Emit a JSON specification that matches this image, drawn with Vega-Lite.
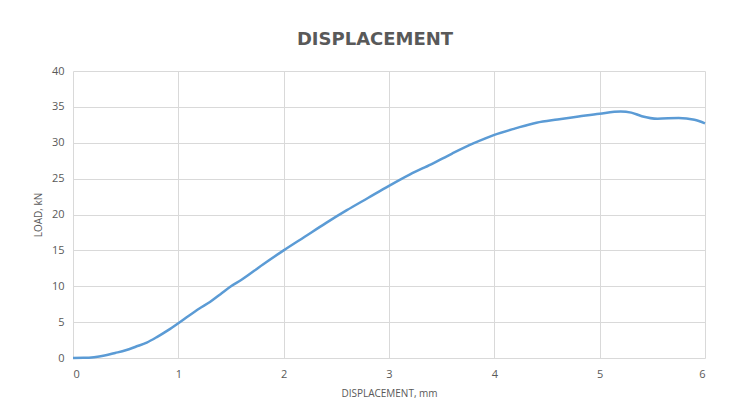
{
  "$schema": "https://vega.github.io/schema/vega-lite/v6.json",
  "width": 632,
  "height": 287,
  "autosize": {"type": "none"},
  "padding": {"left": 73, "top": 71, "right": 24, "bottom": 58},
  "background": "white",
  "title": {
    "text": "DISPLACEMENT",
    "font": "DejaVu Sans",
    "fontSize": 18,
    "fontWeight": "bold",
    "color": "#595959",
    "anchor": "middle",
    "dx": -14,
    "offset": 16
  },
  "config": {
    "view": {"stroke": null},
    "axis": {
      "labelFont": "Open Sans",
      "labelFontSize": 11,
      "labelColor": "#595959",
      "titleFont": "Open Sans",
      "titleFontSize": 10,
      "titleFontWeight": "normal",
      "titleColor": "#595959",
      "gridColor": "#d9d9d9",
      "gridWidth": 1,
      "domain": false,
      "ticks": false
    }
  },
  "data": {
    "values": [
      {"disp": 0.0, "load": 0.0},
      {"disp": 0.1, "load": 0.02},
      {"disp": 0.2, "load": 0.12},
      {"disp": 0.3, "load": 0.35},
      {"disp": 0.4, "load": 0.7},
      {"disp": 0.5, "load": 1.08},
      {"disp": 0.6, "load": 1.6},
      {"disp": 0.7, "load": 2.15},
      {"disp": 0.8, "load": 2.95},
      {"disp": 0.9, "load": 3.85},
      {"disp": 1.0, "load": 4.85},
      {"disp": 1.1, "load": 5.9},
      {"disp": 1.2, "load": 6.9},
      {"disp": 1.3, "load": 7.8},
      {"disp": 1.4, "load": 8.9},
      {"disp": 1.5, "load": 10.0},
      {"disp": 1.6, "load": 10.9},
      {"disp": 1.8, "load": 13.0},
      {"disp": 2.0, "load": 15.0},
      {"disp": 2.2, "load": 16.9},
      {"disp": 2.4, "load": 18.8},
      {"disp": 2.6, "load": 20.6},
      {"disp": 2.8, "load": 22.3},
      {"disp": 3.0, "load": 24.0},
      {"disp": 3.2, "load": 25.6},
      {"disp": 3.4, "load": 27.0},
      {"disp": 3.6, "load": 28.5},
      {"disp": 3.8, "load": 29.9},
      {"disp": 4.0, "load": 31.1},
      {"disp": 4.2, "load": 32.0},
      {"disp": 4.4, "load": 32.8},
      {"disp": 4.6, "load": 33.25},
      {"disp": 4.8, "load": 33.65},
      {"disp": 5.0, "load": 34.05},
      {"disp": 5.2, "load": 34.35},
      {"disp": 5.3, "load": 34.2},
      {"disp": 5.4, "load": 33.7},
      {"disp": 5.55, "load": 33.35},
      {"disp": 5.75, "load": 33.45},
      {"disp": 5.9, "load": 33.2},
      {"disp": 6.0, "load": 32.7}
    ]
  },
  "mark": {
    "type": "line",
    "color": "#5b9bd5",
    "strokeWidth": 2.5,
    "interpolate": "monotone"
  },
  "encoding": {
    "x": {
      "field": "disp",
      "type": "quantitative",
      "title": "DISPLACEMENT, mm",
      "scale": {"domain": [0, 6], "nice": false},
      "axis": {"values": [0, 1, 2, 3, 4, 5, 6], "labelPadding": 10, "titlePadding": 9}
    },
    "y": {
      "field": "load",
      "type": "quantitative",
      "title": "LOAD, kN",
      "scale": {"domain": [0, 40], "nice": false},
      "axis": {"values": [0, 5, 10, 15, 20, 25, 30, 35, 40], "labelPadding": 9, "titlePadding": 8}
    }
  }
}
